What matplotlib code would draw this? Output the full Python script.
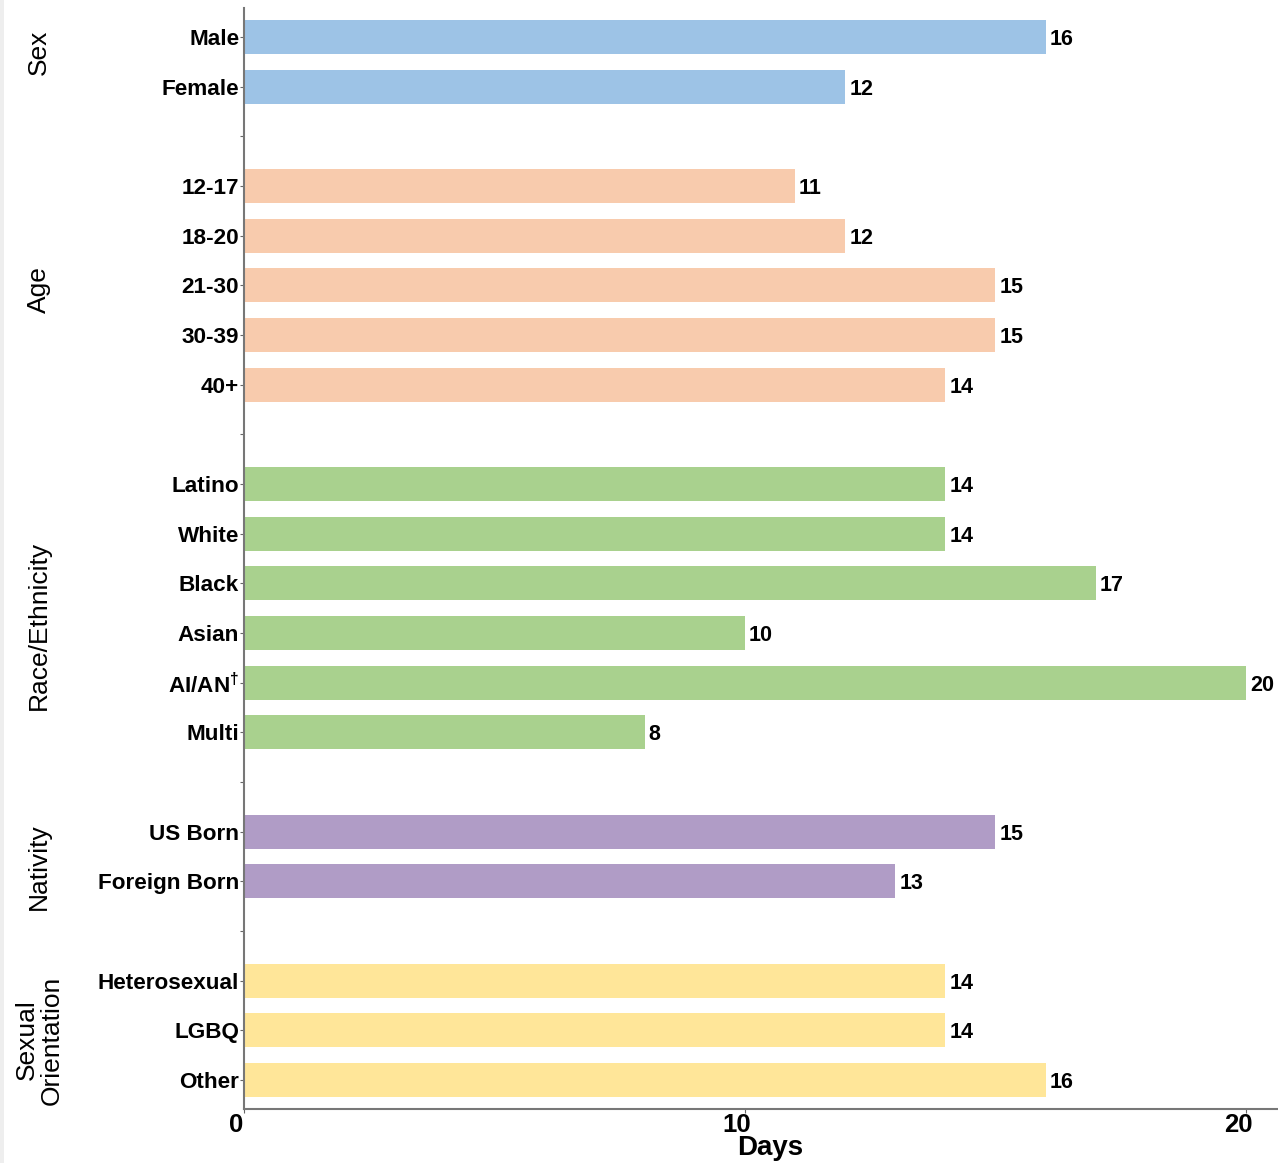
import matplotlib
matplotlib.use("Agg")
import matplotlib.pyplot as plt
import matplotlib.transforms as mtransforms
from matplotlib.patches import Rectangle

plt.rcParams['font.family'] = ['Liberation Sans', 'DejaVu Sans']
plt.rcParams['mathtext.fontset'] = 'custom'
plt.rcParams['mathtext.rm'] = 'Liberation Sans:bold'
plt.rcParams['mathtext.bf'] = 'Liberation Sans:bold'
plt.rcParams['mathtext.default'] = 'bf'

# ---- data ----
groups = ["Sex", "Age", "Race/Ethnicity", "Nativity", "Sexual\nOrientation"]
sex_labels = ["Male", "Female"]
sex_values = [16, 12]
age_labels = ["12-17", "18-20", "21-30", "30-39", "40+"]
age_values = [11, 12, 15, 15, 14]
race_labels = ["Latino", "White", "Black", "Asian", r"AI/AN$^{\dagger}$", "Multi"]
race_values = [14, 14, 17, 10, 20, 8]
nativity_labels = ["US Born", "Foreign Born"]
nativity_values = [15, 13]
orient_labels = ["Heterosexual", "LGBQ", "Other"]
orient_values = [14, 14, 16]
colors = ["#9DC3E6", "#F8CBAD", "#A9D18E", "#B09CC6", "#FFE699"]
xticks = [0, 10, 20]
# group label y centres in figure pixels (layout)
group_label_px = [52, 290, 625, 867, 1040]

group_data = [(sex_labels, sex_values), (age_labels, age_values),
              (race_labels, race_values), (nativity_labels, nativity_values),
              (orient_labels, orient_values)]

W, H = 1278, 1163
fig = plt.figure(figsize=(W / 100, H / 100), dpi=100)
fig.patches.append(Rectangle((0, 0), 4 / W, 1, transform=fig.transFigure,
                             facecolor="#eeeeee", edgecolor="none"))
ax = fig.add_axes([244 / W, 1 - 1109 / H, (W - 244) / W, (1109 - 8) / H])

pos = 0
ytick_pos, ytick_lab, gap_pos = [], [], []
for gi, (labs, vals) in enumerate(group_data):
    if gi > 0:
        gap_pos.append(pos)
        pos += 1
    for lab, v in zip(labs, vals):
        ax.barh(pos, v, height=0.68, color=colors[gi], edgecolor="none")
        ax.text(v + 0.08, pos, str(v), va="center_baseline", ha="left",
                fontsize=15.5, fontweight="bold")
        ytick_pos.append(pos)
        ytick_lab.append(lab)
        pos += 1

n = pos
ax.set_ylim(n - 1 + 0.584, -0.584)
ax.set_xlim(0, 20.64)
ax.set_yticks(ytick_pos)
ax.set_yticklabels(ytick_lab, fontsize=16.2, fontweight="bold")
ax.set_yticks(gap_pos, minor=True)
ax.set_xticks(xticks)
ax.set_xticklabels([str(t) for t in xticks], fontsize=18.5, fontweight="bold")
ax.tick_params(axis="y", which="both", length=3, width=0.8, color="#666666", pad=0.5)
ax.tick_params(axis="x", length=3, width=0.8, color="#666666", pad=0)
shift = mtransforms.ScaledTranslation(-8 / 100, 0, fig.dpi_scale_trans)
for lbl in ax.get_xticklabels():
    lbl.set_transform(lbl.get_transform() + shift)
for s in ["top", "right"]:
    ax.spines[s].set_visible(False)
for s in ["left", "bottom"]:
    ax.spines[s].set_color("#777777")
    ax.spines[s].set_linewidth(1.5)
ax.set_xlabel("Days", fontsize=20, fontweight="bold", labelpad=0)
ax.xaxis.set_label_coords((770 - 244) / (W - 244), -(1148 - 1109) / (1109 - 8))
ax.xaxis.label.set_va("center")

for g, ypx in zip(groups, group_label_px):
    fig.text(39 / W, 1 - ypx / H, g, rotation=90, ha="center", va="center",
             fontsize=19, multialignment="center", linespacing=1.05)

fig.savefig("out.png", dpi=100)
